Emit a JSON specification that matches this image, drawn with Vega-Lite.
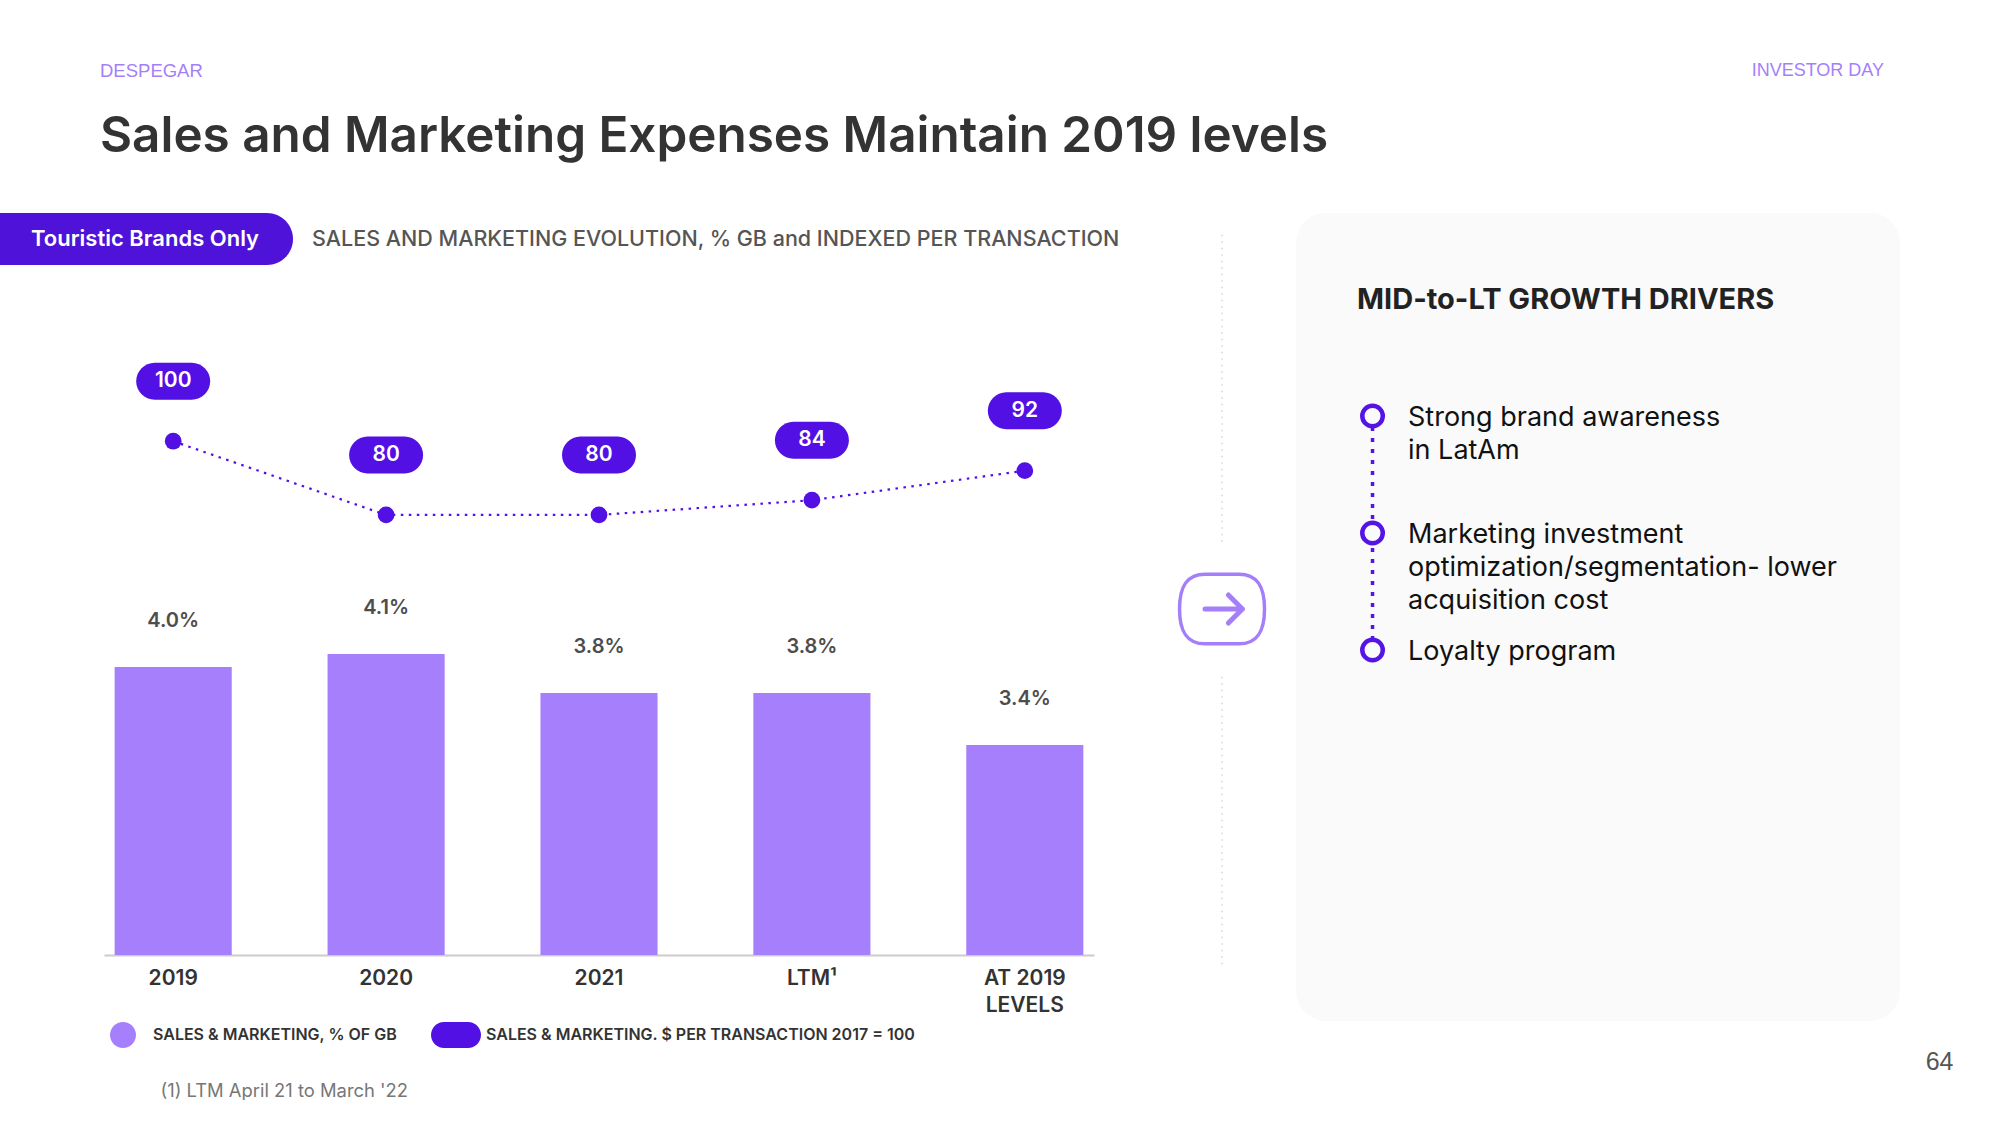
{
  "$schema": "https://vega.github.io/schema/vega-lite/v6.json",
  "background": "white",
  "padding": {"left": -30, "top": 62, "right": 0, "bottom": 0},
  "config": {"view": {"stroke": null}, "font": "Inter", "axis": {"grid": false}},
  "title": {
    "text": "DESPEGAR",
    "subtitle": "Sales and Marketing Expenses Maintain 2019 levels",
    "anchor": "start", "frame": "group", "dx": 130, "offset": -99,
    "font": "Liberation Sans", "fontSize": 18.5, "fontWeight": "normal", "color": "#a57ffa",
    "subtitleFont": "Inter", "subtitleFontSize": 49.4, "subtitleFontWeight": 600,
    "subtitleColor": "#333333", "subtitlePadding": 32
  },
  "spacing": 20,
  "resolve": {"legend": {"color": "independent"}},
  "hconcat": [
    {
      "vconcat": [
        {
          "width": 323, "height": 52,
          "view": {"fill": "#4f12d9", "cornerRadius": 26, "stroke": null},
          "data": {"values": [{"tag": "Touristic Brands Only"}]},
          "mark": {"type": "text", "color": "white", "dx": 13.5, "font": "Inter", "fontSize": 22, "fontWeight": 600},
          "encoding": {"text": {"field": "tag", "type": "nominal"}}
        },
        {
          "hconcat": [
            {
              "width": 98, "height": 673,
              "data": {"values": []},
              "mark": "point"
            },
            {
              "width": 990, "height": 673,
              "title": {
                "text": "SALES AND MARKETING EVOLUTION, % GB and INDEXED PER  TRANSACTION",
                "anchor": "start", "frame": "group", "dx": 208, "offset": 21, "baseline": "middle",
                "font": "Inter", "fontSize": 21.5, "fontWeight": 500, "color": "#555555"
              },
              "data": {"values": [
                {"period": "2019", "pct": 4.0, "pct_label": "4.0%", "index": 100},
                {"period": "2020", "pct": 4.1, "pct_label": "4.1%", "index": 80},
                {"period": "2021", "pct": 3.8, "pct_label": "3.8%", "index": 80},
                {"period": "LTM¹", "pct": 3.8, "pct_label": "3.8%", "index": 84},
                {"period": "AT 2019 LEVELS", "pct": 3.4, "pct_label": "3.4%", "index": 92}
              ]},
              "encoding": {
                "x": {
                  "field": "period", "type": "nominal", "sort": null,
                  "scale": {"paddingInner": 0.45, "paddingOuter": 0.05},
                  "axis": {
                    "title": "(1) LTM April 21 to March '22",
                    "titleFont": "Inter", "titleFontSize": 18.4, "titleFontWeight": "normal", "titleColor": "#777777",
                    "titleAnchor": "start", "titleAlign": "left", "titleX": 56, "titleY": 141, "titleBaseline": "alphabetic",
                    "labelAngle": 0, "labelFont": "Inter", "labelFontSize": 21, "labelFontWeight": 600, "labelColor": "#333333",
                    "labelPadding": 12, "labelLineHeight": 27, "labelLimit": 300,
                    "labelExpr": "datum.value == 'AT 2019 LEVELS' ? ['AT 2019', 'LEVELS'] : datum.value",
                    "ticks": false, "domainColor": "#cccccc", "domainWidth": 2
                  }
                }
              },
              "layer": [
                {
                  "mark": {"type": "bar", "clip": true},
                  "encoding": {
                    "y": {"field": "pct", "type": "quantitative",
                          "scale": {"domain": [1.785, 6.962], "zero": false, "nice": false}, "axis": null},
                    "color": {
                      "datum": "SALES & MARKETING, % OF GB", "type": "nominal",
                      "scale": {"domain": ["SALES & MARKETING, % OF GB", "SALES & MARKETING. $ PER TRANSACTION 2017 = 100"], "range": ["#a67ffc", "#5210e4"]},
                      "legend": {
                        "orient": "none", "legendX": -6, "legendY": 728, "direction": "horizontal", "title": null,
                        "symbolSize": 2500, "labelFont": "Inter", "labelFontSize": 16, "labelFontWeight": 600,
                        "labelColor": "#333333", "labelOffset": 5, "columnPadding": 33, "labelLimit": 600,
                        "symbolStrokeWidth": 0, "symbolOpacity": 1,
                        "encode": {"symbols": {"update": {
                          "shape": {"signal": "datum.value === 'SALES & MARKETING, % OF GB' ? 'M -0.52,0 A 0.52,0.52 0 1 1 0.52,0 A 0.52,0.52 0 1 1 -0.52,0 Z' : 'M -0.48,-0.52 L 0.48,-0.52 A 0.52,0.52 0 0 1 0.48,0.52 L -0.48,0.52 A 0.52,0.52 0 0 1 -0.48,-0.52 Z'"},
                          "fill": {"signal": "datum.value === 'SALES & MARKETING, % OF GB' ? '#a67ffc' : '#5210e4'"},
                          "strokeDash": {"value": []},
                          "strokeWidth": {"value": 0},
                          "opacity": {"value": 1}
                        }}}
                      }
                    }
                  }
                },
                {
                  "mark": {"type": "text", "dy": -46, "baseline": "middle", "font": "Inter", "fontSize": 20, "fontWeight": 600, "color": "#4d4d4d"},
                  "encoding": {
                    "y": {"field": "pct", "type": "quantitative", "scale": {"domain": [1.785, 6.962], "zero": false, "nice": false}, "axis": null},
                    "text": {"field": "pct_label", "type": "nominal"}
                  }
                },
                {
                  "mark": {"type": "line", "strokeDash": [2.5, 5.5], "strokeWidth": 2.2},
                  "encoding": {
                    "y": {"field": "index", "type": "quantitative", "scale": {"domain": [-39.4, 143.2], "zero": false, "nice": false}, "axis": null},
                    "color": {"datum": "SALES & MARKETING. $ PER TRANSACTION 2017 = 100", "type": "nominal"}
                  }
                },
                {
                  "mark": {"type": "point", "filled": true, "size": 280, "opacity": 1},
                  "encoding": {
                    "y": {"field": "index", "type": "quantitative", "scale": {"domain": [-39.4, 143.2], "zero": false, "nice": false}, "axis": null},
                    "color": {"datum": "SALES & MARKETING. $ PER TRANSACTION 2017 = 100", "type": "nominal"}
                  }
                },
                {
                  "mark": {"type": "point", "filled": true, "opacity": 1, "size": 5476, "yOffset": -60,
                           "shape": "M -0.5,-0.5 L 0.5,-0.5 A 0.5,0.5 0 0 1 0.5,0.5 L -0.5,0.5 A 0.5,0.5 0 0 1 -0.5,-0.5 Z"},
                  "encoding": {
                    "y": {"field": "index", "type": "quantitative", "scale": {"domain": [-39.4, 143.2], "zero": false, "nice": false}, "axis": null},
                    "color": {"datum": "SALES & MARKETING. $ PER TRANSACTION 2017 = 100", "type": "nominal"}
                  }
                },
                {
                  "mark": {"type": "text", "color": "white", "yOffset": -60, "baseline": "middle", "font": "Inter", "fontSize": 21, "fontWeight": 600},
                  "encoding": {
                    "y": {"field": "index", "type": "quantitative", "scale": {"domain": [-39.4, 143.2], "zero": false, "nice": false}, "axis": null},
                    "text": {"field": "index", "type": "quantitative"}
                  }
                }
              ],
              "resolve": {"scale": {"y": "independent"}}
            }
          ],
          "spacing": 30,
          "resolve": {"legend": {"color": "independent"}}
        }
      ],
      "spacing": -37,
      "resolve": {"legend": {"color": "independent"}}
    },
    {
      "width": 130, "height": 760,
      "data": {"values": [{"element": "arrow"}]},
      "encoding": {
        "x": {"datum": 0, "type": "quantitative", "scale": {"domain": [-1, 0.71], "nice": false, "zero": false}, "axis": null}
      },
      "layer": [
        {"mark": {"type": "rule", "color": "#d6d6d6", "strokeDash": [1.5, 5], "strokeWidth": 1.5},
         "encoding": {"y": {"datum": 1.028, "type": "quantitative", "scale": {"domain": [-1, 1.088], "nice": false, "zero": false}, "axis": null},
                      "y2": {"datum": -0.986}}},
        {"mark": {"type": "point", "filled": true, "opacity": 1, "color": "white", "size": 17956, "shape": "M -0.1,-1 L 0.1,-1 L 0.1,1 L -0.1,1 Z"},
         "encoding": {"y": {"datum": 0, "type": "quantitative", "scale": {"domain": [-1, 1.088], "nice": false, "zero": false}, "axis": null}}},
        {"mark": {"type": "point", "filled": false, "opacity": 1, "fill": "white", "stroke": "#a57ffa", "strokeWidth": 3.5, "size": 7225,
                  "shape": "M -0.4,-0.82 L 0.4,-0.82 C 0.85,-0.82 1,-0.5 1,0 C 1,0.5 0.85,0.82 0.4,0.82 L -0.4,0.82 C -0.85,0.82 -1,0.5 -1,0 C -1,-0.5 -0.85,-0.82 -0.4,-0.82 Z"},
         "encoding": {"y": {"datum": 0, "type": "quantitative", "scale": {"domain": [-1, 1.088], "nice": false, "zero": false}, "axis": null}}},
        {"mark": {"type": "point", "filled": false, "opacity": 1, "stroke": "#a57ffa", "strokeWidth": 5, "strokeCap": "round", "strokeJoin": "round", "size": 7225,
                  "shape": "M -0.4,0 L 0.48,0 M 0.15,-0.33 L 0.48,0 L 0.15,0.33"},
         "encoding": {"y": {"datum": 0, "type": "quantitative", "scale": {"domain": [-1, 1.088], "nice": false, "zero": false}, "axis": null}}}
      ]
    },
    {
      "width": 604, "height": 808,
      "view": {"fill": "#fafafa", "cornerRadius": 30, "stroke": null},
      "title": {"text": "INVESTOR DAY", "anchor": "end", "frame": "group", "dx": -16, "offset": 119, "font": "Liberation Sans", "fontSize": 18, "fontWeight": "normal", "color": "#a57ffa", "baseline": "alphabetic"},
      "data": {"values": [
        {"item": 0, "kind": "heading", "text": "MID-to-LT GROWTH DRIVERS"},
        {"item": 1, "kind": "bullet", "text": ["Strong brand awareness", "in LatAm"]},
        {"item": 2, "kind": "bullet", "text": ["Marketing investment", "optimization/segmentation- lower", "acquisition cost"]},
        {"item": 3, "kind": "bullet", "text": ["Loyalty program"]}
      ]},
      "encoding": {
        "x": {"datum": 0, "type": "quantitative", "scale": {"domain": [-0.1267, 0.8733], "nice": false, "zero": false},
              "axis": {"title": "64", "domain": false, "ticks": false, "labels": false, "grid": false,
                       "titleFont": "Liberation Sans", "titleFontSize": 25, "titleFontWeight": "normal", "titleColor": "#555555",
                       "titleX": 657, "titleY": 48, "titleAlign": "right", "titleBaseline": "alphabetic"}},
        "y": {"field": "item", "type": "quantitative", "scale": {"domain": [-0.735, 6.171], "reverse": true, "nice": false, "zero": false}, "axis": null}
      },
      "layer": [
        {"transform": [{"filter": "datum.kind === 'bullet'"}],
         "mark": {"type": "line", "color": "#5514e6", "strokeDash": [4, 7], "strokeWidth": 3.5}},
        {"transform": [{"filter": "datum.kind === 'bullet'"}],
         "mark": {"type": "point", "shape": "circle", "size": 420, "fill": "#fafafa", "stroke": "#5514e6", "strokeWidth": 4.5, "opacity": 1}},
        {"transform": [{"filter": "datum.kind === 'bullet'"}],
         "mark": {"type": "text", "align": "left", "baseline": "alphabetic", "dx": 35.5, "dy": 10, "font": "Inter", "fontSize": 27, "lineHeight": 33, "color": "#111111"},
         "encoding": {"text": {"field": "text", "type": "nominal"}}},
        {"transform": [{"filter": "datum.kind === 'heading'"}],
         "mark": {"type": "text", "align": "left", "baseline": "alphabetic", "dx": -15.5, "dy": 10, "font": "Inter", "fontSize": 29, "fontWeight": 700, "color": "#222222"},
         "encoding": {"text": {"field": "text", "type": "nominal"}}}
      ]
    }
  ]
}
